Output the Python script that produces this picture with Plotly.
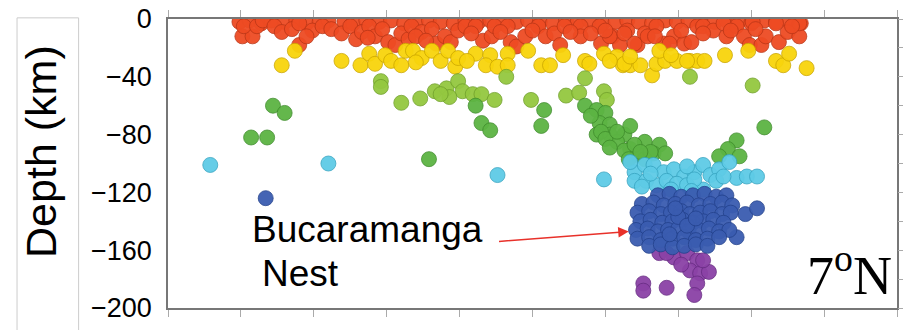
import plotly.graph_objects as go

# ---- data: (distance km, depth km) per depth class ----
red = [(49,-2),(56,-1),(64,-3),(71,-1),(80,-2),(88,-1),(95,-3),(104,-2),(110,-1),(121,-2),
       (127,-3),(136,-1),(145,-2),(153,-1),(162,-3),(170,-2),(179,-1),(187,-2),(196,-3),(204,-1),
       (213,-2),(221,-1),(230,-3),(239,-2),(247,-1),(255,-2),(264,-3),(273,-1),(281,-2),(289,-1),
       (298,-3),(307,-2),(315,-1),(323,-2),(332,-3),(341,-1),(349,-2),(357,-1),(366,-3),(375,-2),
       (383,-1),(391,-2),(400,-3),(409,-1),(417,-2),(425,-1),(434,-3),
       (51,-12),(58,-12),(52,-5),(61,-5),(65,-1),(73,-5),(78,-9),(85,-7),(90,-3),(90,-18),
       (99,-8),(106,-5),(112,-7),(119,-10),(125,-5),(129,-14),(133,-9),(138,-5),(142,-12),(147,-7),
       (151,-16),(156,-18),(160,-10),(165,-14),(167,-5),(174,-9),(181,-7),(184,-17),(190,-12),(194,-16),
       (199,-8),(204,-5),(211,-5),(216,-15),(222,-12),(224,-5),(233,-5),(235,-16),(239,-19),(245,-12),
       (254,-5),(259,-12),(265,-10),(269,-18),(272,-5),(283,-5),(283,-12),(296,-5),(297,-17),(305,-12),
       (310,-18),(315,-8),(322,-18),(327,-10),(335,-5),(340,-17),(347,-12),(354,-17),(359,-16),(363,-5),
       (303,-12),(313,-10),(320,-17),(329,-12),(344,-17),(367,-5),(374,-8),(383,-12),(390,-5),(395,-12),
       (399,-18),(407,-18),(410,-12),(419,-16),(425,-9),(433,-12),(433,-3),(417,-3),(401,-2),(381,-3),
       (367,-10),(170,-12),(177,-15),(208,-10),(228,-9),(250,-8),(276,-9),(290,-10),(300,-8),(334,-12),
       (352,-8),(386,-8),(403,-7),(428,-5),(95,-12),(137,-13)]

yellow = [(87,-22),(78,-32),(119,-29),(132,-32),(138,-24),(142,-31),(149,-25),(153,-29),(160,-32),(163,-22),
          (168,-22),(174,-27),(181,-22),(187,-29),(192,-22),(197,-33),(199,-27),(211,-24),(221,-25),(218,-32),
          (226,-33),(233,-24),(233,-32),(247,-22),(256,-32),(262,-32),(271,-25),(286,-29),(299,-24),(308,-26),
          (312,-32),(317,-32),(324,-32),(332,-39),(335,-31),(341,-29),(349,-29),(358,-29),(363,-29),(337,-22),
          (313,-31),(317,-26),(356,-29),(368,-29),(382,-25),(398,-22),(417,-29),(422,-32),(426,-24),(438,-34),
          (170,-30),(205,-29),(289,-31),(345,-25),(303,-29)]

light_green = [(146,-43),(146,-47),(160,-58),(173,-55),(183,-50),(191,-48),(199,-43),(202,-50),(209,-52),
               (215,-52),(224,-56),(232,-40),(249,-56),(273,-53),(282,-51),(286,-41),(299,-50),(301,-56),
               (358,-40),(401,-46),(193,-54),(187,-52)]

green = [(72,-60),(80,-65),(57,-82),(68,-82),(211,-60),(215,-72),(221,-77),(258,-63),(256,-74),(179,-97),
         (286,-60),(294,-63),(300,-65),(296,-72),(303,-73),(294,-80),(303,-80),(313,-80),(317,-74),(308,-85),
         (317,-90),(327,-85),(337,-87),(313,-91),(322,-94),(333,-93),(341,-93),(316,-97),(327,-97),(297,-78),
         (300,-83),(308,-78),(320,-87),(331,-92),(324,-92),(303,-89),(290,-67),(390,-84),(384,-90),(378,-95),
         (392,-95),(409,-75)]

light_blue = [(29,-101),(110,-100),(226,-108),(299,-111),(320,-106),(327,-101),(333,-101),(340,-106),
              (347,-104),(354,-109),(361,-106),(367,-101),(372,-108),(378,-104),(385,-99),(390,-110),
              (397,-109),(404,-109),(320,-112),(328,-112),(335,-115),(342,-112),(349,-114),(356,-115),
              (367,-118),(317,-99),(331,-107),(356,-102),(361,-111),(376,-112),(381,-109),(325,-116),
              (345,-118),(359,-119)]

dark_blue = [(67,-124),(396,-135),(404,-131),(390,-151),
             (336,-122),(344,-121),(352,-123),(360,-122),(368,-121),(376,-123),(383,-122),
             (325,-128),(333,-127),(340,-129),(348,-128),(356,-127),(364,-129),(372,-128),(380,-127),(387,-129),
             (322,-134),(330,-133),(338,-135),(345,-134),(352,-133),(358,-135),(365,-134),(372,-133),(380,-135),(386,-134),
             (324,-140),(331,-139),(339,-141),(346,-140),(353,-139),(360,-141),(367,-140),(374,-139),(381,-141),
             (321,-146),(329,-145),(336,-147),(343,-146),(350,-145),(357,-147),(364,-146),(371,-145),(378,-147),(385,-146),
             (322,-152),(330,-151),(338,-153),(346,-152),(354,-151),(362,-153),(370,-152),(378,-151),
             (330,-157),(338,-156),(346,-158),(354,-157),(362,-156),(370,-157),
             (350,-137),(356,-143),(344,-149),(362,-138),(348,-131)]

purple = [(337,-162),(347,-165),(356,-162),(363,-167),(358,-174),(365,-176),(371,-175),(363,-183),
          (361,-191),(326,-183),(326,-188),(342,-186),(367,-167),(342,-162),(352,-170)]

groups = [
    (red, "#ee4b23", "#b83516"),
    (yellow, "#f8d40c", "#c9a400"),
    (light_green, "#94c840", "#6f9e2a"),
    (green, "#5cb443", "#3d8a2b"),
    (light_blue, "#5ecbe6", "#35a2bf"),
    (purple, "#8b42a6", "#652a80"),
    (dark_blue, "#3a5cb0", "#22408a"),
]

FONT = "Liberation Sans, Arial, sans-serif"
fig = go.Figure()
for pts, col, edge in groups:
    xs = [p[0] for p in pts]
    ys = [p[1] for p in pts]
    fig.add_trace(go.Scatter(x=xs, y=ys, mode="markers", showlegend=False, hoverinfo="skip",
                             marker=dict(size=15, color=col, opacity=0.95,
                                         line=dict(color=edge, width=0.8))))

# invisible trace for right-side tick axis
fig.add_trace(go.Scatter(x=[None], y=[None], yaxis="y2", showlegend=False))

axcol = "#777777"
PW = 734.0  # plot width in px
def px2paper(px):
    return (px - 168) / PW

fig.update_layout(
    width=906, height=330,
    margin=dict(l=168, r=4, t=15, b=22),
    paper_bgcolor="white", plot_bgcolor="white",
    xaxis=dict(range=[0, 500], dtick=50, tick0=0, showticklabels=False, ticks="outside",
               ticklen=7, tickcolor="#aaaaaa", tickwidth=1, mirror="allticks",
               showline=True, linecolor=axcol, linewidth=1.5, showgrid=False, zeroline=False),
    yaxis=dict(range=[-200, 0], dtick=40, tick0=0, ticks="", showline=True, mirror=True,
               linecolor=axcol, linewidth=1.5, showgrid=False, zeroline=False,
               tickfont=dict(family=FONT, size=27, color="black"), ticklabelstandoff=9),
    yaxis2=dict(range=[-200, 0], dtick=20, tick0=0, overlaying="y", side="right",
                ticks="outside", ticklen=5, tickcolor="#aaaaaa", showticklabels=False,
                showline=False, showgrid=False, zeroline=False),
    shapes=[
        dict(type="line", xref="paper", yref="paper", x0=px2paper(16), x1=px2paper(16),
             y0=1.004, y1=-0.2, line=dict(color="#cccccc", width=1)),
        dict(type="line", xref="paper", yref="paper", x0=px2paper(78), x1=px2paper(78),
             y0=1.004, y1=-0.2, line=dict(color="#cccccc", width=1)),
        dict(type="line", xref="paper", yref="paper", x0=px2paper(16), x1=px2paper(78),
             y0=1.004, y1=1.004, line=dict(color="#cccccc", width=1)),
    ],
    annotations=[
        dict(text="Depth (km)", xref="paper", yref="paper", x=px2paper(40), y=0.543, textangle=-90,
             xanchor="center", yanchor="middle",
             showarrow=False, font=dict(family=FONT, size=43, color="black")),
        dict(text="Bucaramanga", xref="x", yref="y", x=56, y=-146, xanchor="left", yanchor="middle",
             showarrow=False, font=dict(family=FONT, size=37, color="black")),
        dict(text="Nest", xref="x", yref="y", x=63, y=-176, xanchor="left", yanchor="middle",
             showarrow=False, font=dict(family=FONT, size=37, color="black")),
        dict(text="7<sup>o</sup>N", xref="x", yref="y", x=498, y=-175, xanchor="right", yanchor="middle",
             showarrow=False, font=dict(family="Liberation Serif, Times New Roman, serif", size=54, color="black")),
        dict(text="", xref="x", yref="y", x=316, y=-147, axref="x", ayref="y", ax=226, ay=-154,
             showarrow=True, arrowhead=2, arrowsize=1.4, arrowwidth=1.5, arrowcolor="#e8312a"),
    ],
)

fig.write_html("out.html", config={"displayModeBar": False},
               post_script="document.body.style.margin='0';document.body.style.overflow='hidden';")
